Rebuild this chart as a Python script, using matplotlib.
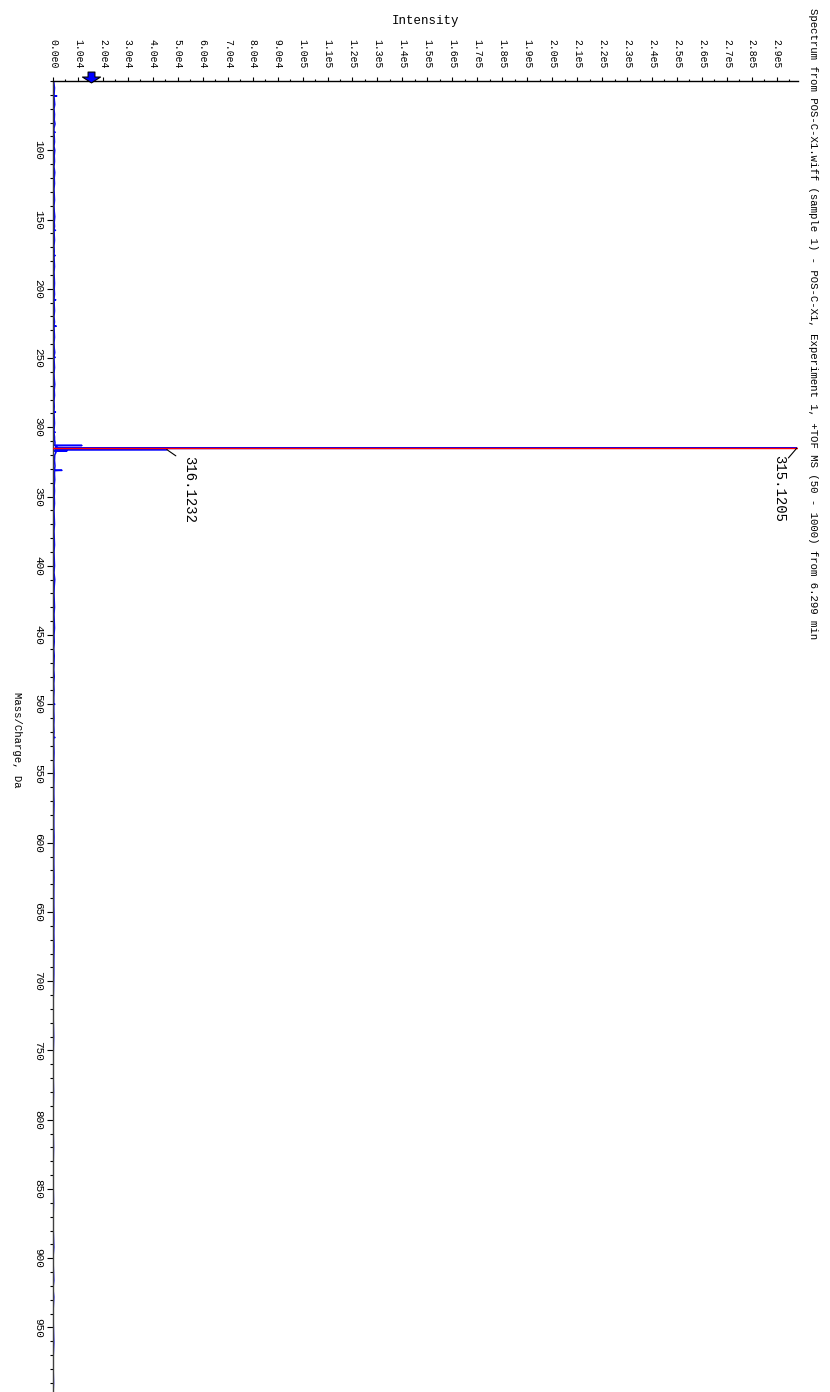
import numpy as np
import matplotlib
matplotlib.use("Agg")
import matplotlib.pyplot as plt
from matplotlib.path import Path
from matplotlib.ticker import MultipleLocator, FuncFormatter

plt.rcParams["font.family"] = ["Liberation Mono", "DejaVu Sans Mono"]

title = ("Spectrum from POS-C-X1.wiff (sample 1) - POS-C-X1, Experiment 1, "
         "+TOF MS (50 - 1000) from 6.299 min")

# profile spectrum points (m/z, intensity)
profile = [
    (50.5, 300), (55, 600), (58, 500), (60.5, 400), (60.8, 1500), (61.1, 400),
    (63, 500), (67, 700), (70, 400), (74, 600), (78, 500), (81, 800),
    (84, 400), (86.7, 400), (87, 900), (87.3, 400), (90, 500), (94, 600),
    (97, 400), (100, 700), (104, 500), (108, 600), (112, 400), (116, 700),
    (120, 500), (124, 600), (128, 400), (132, 500), (136, 600), (140, 400),
    (144, 500), (148, 700), (152, 500), (155, 600), (157.5, 400),
    (157.8, 1000), (158.1, 400), (161, 500), (165, 600), (169, 400),
    (173, 500), (175.7, 400), (176, 900), (176.3, 400), (180, 500),
    (184, 600), (188, 400), (192, 500), (196, 600), (200, 500), (204, 600),
    (207.7, 400), (208, 1100), (208.3, 400), (212, 500), (216, 600),
    (220, 400), (224, 600), (226.7, 400), (227, 1300), (227.3, 400),
    (231, 500), (235, 600), (239, 400), (243, 500), (246, 700),
    (249.2, 400), (249.5, 900), (249.8, 400), (253, 500), (257, 600),
    (261, 400), (265, 500), (269, 700), (273, 500), (277, 600), (281, 400),
    (285, 500), (288.7, 400), (289, 1000), (289.3, 400), (293, 500),
    (297, 600), (301, 500), (303.3, 400), (303.6, 900), (303.9, 400),
    (307, 600), (309, 600), (311, 800), (312.9, 700), (313.15, 11600),
    (313.4, 900), (314.1, 1500), (314.95, 900), (315.12, 298000),
    (315.35, 1500), (315.95, 900), (316.12, 45600), (316.35, 900),
    (316.95, 700), (317.12, 5600), (317.35, 800), (318.1, 1200), (320, 700),
    (324, 600), (328, 800), (330.9, 600), (331.1, 3600), (331.35, 600),
    (334, 600), (338, 700), (342, 500), (346, 600), (350, 500), (355, 600),
    (360, 400), (365, 500), (370, 600), (375, 400), (380, 500), (385, 600),
    (390, 400), (395, 500), (400, 600), (405, 400), (410, 700), (415, 500),
    (420, 400), (425, 500), (430, 600), (435, 400), (440, 500), (445, 600),
    (450, 400), (455, 500), (460, 300), (465, 500), (470, 400), (475, 300),
    (480, 500), (485, 300), (490, 400), (495, 300), (499.7, 300),
    (500, 700), (500.3, 300), (505, 300), (510, 400), (515, 300),
    (520, 400), (523.7, 300), (524, 800), (524.3, 300), (528, 300),
    (535, 400), (542, 300), (550, 400), (558, 300), (565, 300), (572, 400),
    (580, 300), (588, 300), (596, 400), (605, 300), (615, 300), (625, 400),
    (635, 300), (645, 300), (655, 400), (665, 300), (675, 400), (685, 300),
    (695, 300), (705, 200), (720, 0), (740, 250), (760, 0), (780, 200),
    (800, 0), (820, 200), (840, 0), (860, 200), (875, 0), (892, 300),
    (900, 0), (916, 300), (922, 0), (928, 300), (940, 0), (961, 300),
    (975, 0), (990, 200), (1000, 0),
]
mz = [p[0] for p in profile]
intensity = [p[1] for p in profile]

# labelled peaks
base_mz, base_int = 315.1205, 298000
iso_mz, iso_int = 316.1232, 45600


def intensity_label(v, pos):
    if v <= 0:
        return "0.0e0"
    e = int(np.floor(np.log10(v) + 1e-9))
    return f"{v / 10 ** e:.1f}e{e}"


fig = plt.figure(figsize=(8.3, 13.92), dpi=100)
ax = fig.add_axes([53 / 830, -0.0034, 745 / 830, 0.9452])

ax.plot(intensity, mz, color="#0000ff", lw=1.1, zorder=2)
ax.plot([0, base_int], [base_mz, base_mz], color="#ff0000", lw=1.0, zorder=3)

ax.set_xlim(0, 2.985e5)
ax.set_ylim(1000, 50)

ax.xaxis.tick_top()
ax.xaxis.set_major_locator(MultipleLocator(1e4))
ax.xaxis.set_minor_locator(MultipleLocator(5e3))
ax.xaxis.set_major_formatter(FuncFormatter(intensity_label))
ax.set_yticks(list(range(100, 1000, 50)))
ax.yaxis.set_minor_locator(MultipleLocator(10))

ax.tick_params(axis="x", which="major", direction="out", length=3, width=0.8,
               pad=6, labelsize=7, labelrotation=-90)
ax.tick_params(axis="x", which="minor", direction="out", length=1.5, width=0.8)
ax.tick_params(axis="y", which="major", direction="out", length=4, width=0.8,
               pad=3, labelsize=8, labelrotation=-90)
ax.tick_params(axis="y", which="minor", direction="out", length=2.5, width=0.8)
for lab in ax.get_yticklabels():
    lab.set_va("center")

for side in ["right", "bottom"]:
    ax.spines[side].set_visible(False)
ax.spines["top"].set_linewidth(1.0)
ax.spines["left"].set_linewidth(1.0)
ax.spines["left"].set_color("#404040")

# peak labels with leader lines
ax.annotate("", xy=(base_int, base_mz), xytext=(-6, -7), textcoords="offset points",
            arrowprops=dict(arrowstyle="-", lw=0.8, color="black", shrinkA=0, shrinkB=0))
ax.annotate(f"{base_mz:.4f}", xy=(base_int, base_mz), xytext=(-12.5, -5),
            textcoords="offset points", rotation=-90, ha="center", va="top", fontsize=10)
ax.annotate("", xy=(iso_int, iso_mz), xytext=(6.5, -4.5), textcoords="offset points",
            arrowprops=dict(arrowstyle="-", lw=0.8, color="black", shrinkA=0, shrinkB=0))
ax.annotate(f"{iso_mz:.4f}", xy=(iso_int, iso_mz), xytext=(16, -4.5),
            textcoords="offset points", rotation=-90, ha="center", va="top", fontsize=10)

# threshold arrow on the intensity axis
arrow = Path([(-0.38, 0.6), (0.38, 0.6), (0.38, 0.05), (1.0, 0.05), (0.0, -0.6),
              (-1.0, 0.05), (-0.38, 0.05), (-0.38, 0.6)], closed=True)
ax.plot([1.52e4], [47.1], marker=arrow, markersize=13, mfc="#0000ff", mec="black",
        mew=0.8, clip_on=False, zorder=5)

fig.text(426 / 830, 1 - 21 / 1392, "Intensity", ha="center", va="center", fontsize=9)
fig.text(17 / 830, 1 - 740 / 1392, "Mass/Charge, Da", rotation=-90,
         ha="center", va="center", fontsize=7.7)
fig.text(813 / 830, 1 - 8 / 1392, title, rotation=-90, ha="center", va="top",
         fontsize=7.7)

fig.savefig("out.png", dpi=100)
plt.close(fig)
